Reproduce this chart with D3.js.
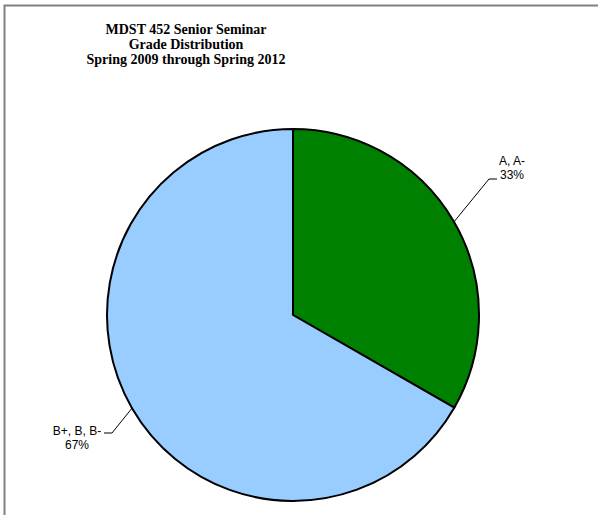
<!DOCTYPE html>
<html>
<head>
<meta charset="utf-8">
<script src="https://cdn.jsdelivr.net/npm/d3@7"></script>
<style>
  body { margin: 0; background: #fff; }
  .title { font-family: "Liberation Serif", "Times New Roman", serif; font-weight: bold; font-size: 14px; }
  .lbl { font-family: "Liberation Sans", Arial, sans-serif; font-size: 12px; }
</style>
</head>
<body>
<div id="chart"></div>
<script>
// chart data
var categories = ["A, A-", "B+, B, B-"];
var shares = [33.3, 66.7];
var pctLabels = ["33%", "67%"];
var sliceColors = ["#008000", "#99ccff"];
var titleLines = ["MDST 452 Senior Seminar", "Grade Distribution", "Spring 2009 through Spring 2012"];

var svgWidth = 598;
var svgHeight = 515;

var svg = d3.select("#chart")
  .append("svg")
  .attr("width", svgWidth)
  .attr("height", svgHeight);

// frame (top and left edges are visible)
svg.append("path")
  .attr("d", "M4.5,515 L4.5,5.5 L598,5.5")
  .attr("fill", "none")
  .attr("stroke", "#808080")
  .attr("stroke-width", 2);

// title
svg.append("text")
  .attr("class", "title")
  .attr("text-anchor", "middle")
  .selectAll("tspan")
  .data(titleLines)
  .enter()
  .append("tspan")
  .attr("x", 186)
  .attr("y", (d, i) => 34 + i * 15)
  .text(d => d);

var cx = 293, cy = 315, radius = 186;

var pie = d3.pie().sort(null).value(d => d);
var arcs = pie(shares);
var arc = d3.arc().innerRadius(0).outerRadius(radius);

var pieGroup = svg.append("g")
  .attr("transform", `translate(${cx}, ${cy})`);

pieGroup.selectAll("path")
  .data(arcs)
  .enter()
  .append("path")
  .attr("d", arc)
  .attr("fill", (d, i) => sliceColors[i])
  .attr("stroke", "#000")
  .attr("stroke-width", 2)
  .attr("stroke-linejoin", "round");

// leader lines and labels (lines start at the slice mid-angle)
var leaders = [
  { elbow: [489, 179], end: [497, 179], tx: 512, ty: 165 },
  { elbow: [112, 433], end: [104, 433], tx: 77, ty: 435 }
];

arcs.forEach(function(a, i) {
  var L = leaders[i];
  var ang = (a.startAngle + a.endAngle) / 2;
  var px = cx + radius * Math.sin(ang);
  var py = cy - radius * Math.cos(ang);
  svg.append("polyline")
    .attr("points", [[px, py], L.elbow, L.end].map(p => p.join(",")).join(" "))
    .attr("fill", "none")
    .attr("stroke", "#000")
    .attr("stroke-width", 1);

  svg.append("text")
    .attr("class", "lbl")
    .attr("text-anchor", "middle")
    .selectAll("tspan")
    .data([categories[i], pctLabels[i]])
    .enter()
    .append("tspan")
    .attr("x", L.tx)
    .attr("y", (d, j) => L.ty + j * 14)
    .text(d => d);
});
</script>
</body>
</html>
